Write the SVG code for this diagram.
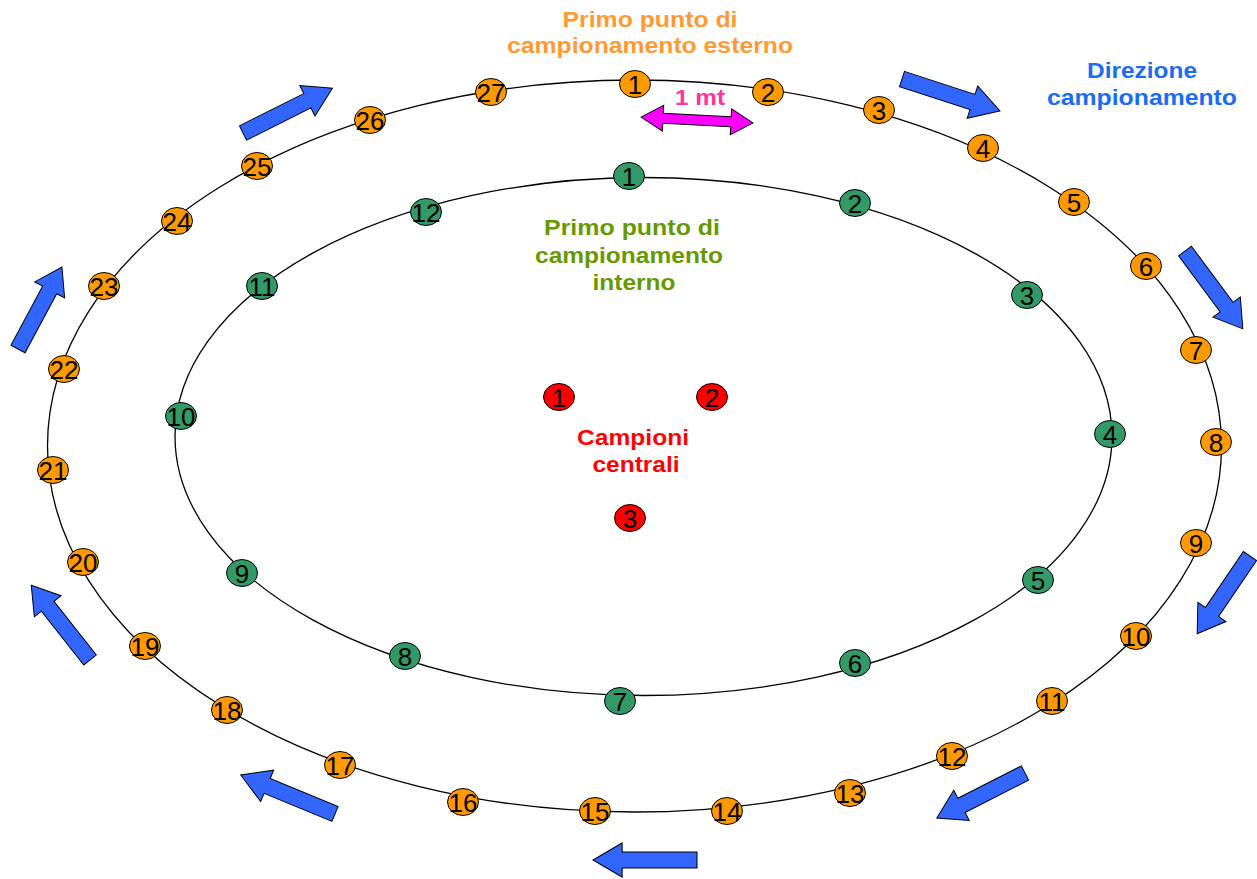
<svg xmlns="http://www.w3.org/2000/svg" xmlns:xlink="http://www.w3.org/1999/xlink" width="1257" height="879" viewBox="0 0 1257 879">
<style>
.ring{fill:none;stroke:#000;stroke-width:1.3}
.or{fill:#FF9900;stroke:#000;stroke-width:1}
.gr{fill:#339966;stroke:#000;stroke-width:1}
.rd{fill:#FF0000;stroke:#000;stroke-width:1}
.num{font-family:"Liberation Sans",Arial,sans-serif;font-size:26px;fill:#000;text-anchor:middle}
.lbl{font-family:"Liberation Sans",Arial,sans-serif;font-weight:bold;font-size:22px;text-anchor:middle}
.blue{fill:#3366FF;stroke:#000;stroke-width:1}
</style>
<defs>
<polygon id="barrow" points="0,-8 72,-8 72,-17 100,0 72,17 72,8 0,8"/>
</defs>
<g id="connectors">
<ellipse class="ring" cx="634.5" cy="446" rx="587" ry="366"/>
<ellipse class="ring" cx="643.5" cy="436.5" rx="468.5" ry="259"/>
</g>
<g id="direction-arrows">
<use xlink:href="#barrow" class="blue" transform="translate(243,133) rotate(-26.6) scale(1,1)"/>
<use xlink:href="#barrow" class="blue" transform="translate(902,79) rotate(18.1) scale(1.03,1)"/>
<use xlink:href="#barrow" class="blue" transform="translate(1185,251) rotate(53.4) scale(0.97,1)"/>
<use xlink:href="#barrow" class="blue" transform="translate(1250,556) rotate(124.2) scale(0.94,1)"/>
<use xlink:href="#barrow" class="blue" transform="translate(1025,773) rotate(153) scale(0.99,1)"/>
<use xlink:href="#barrow" class="blue" transform="translate(697,860) rotate(180) scale(1.04,1)"/>
<use xlink:href="#barrow" class="blue" transform="translate(335,814) rotate(202.5) scale(1.02,1)"/>
<use xlink:href="#barrow" class="blue" transform="translate(90,660) rotate(-128.2) scale(0.95,1)"/>
<use xlink:href="#barrow" class="blue" transform="translate(18,349) rotate(-61.8) scale(0.93,1)"/>
</g>
<g id="distance-arrow">
<polygon transform="translate(697,120) rotate(3)" points="-56,0 -34,-13 -34,-5 34,-5 34,-13 56,0 34,13 34,5 -34,5 -34,13" fill="#FF00FF" stroke="#000" stroke-width="1"/>
<text class="lbl" x="700" y="105" fill="#FF3399" font-size="20" textLength="50" lengthAdjust="spacingAndGlyphs">1 mt</text>
</g>
<g id="label-outer">
<text class="lbl" fill="#FF9933"><tspan x="650" y="27" textLength="175" lengthAdjust="spacingAndGlyphs">Primo punto di</tspan><tspan x="650" y="53" textLength="286" lengthAdjust="spacingAndGlyphs">campionamento esterno</tspan></text>
</g>
<g id="label-direction">
<text class="lbl" fill="#1A6CF5"><tspan x="1142" y="78" textLength="110" lengthAdjust="spacingAndGlyphs">Direzione</tspan><tspan x="1142" y="105" textLength="190" lengthAdjust="spacingAndGlyphs">campionamento</tspan></text>
</g>
<g id="label-inner">
<text class="lbl" fill="#669900"><tspan x="632" y="235" textLength="176" lengthAdjust="spacingAndGlyphs">Primo punto di</tspan><tspan x="629" y="263" textLength="188" lengthAdjust="spacingAndGlyphs">campionamento</tspan><tspan x="634" y="290" textLength="83" lengthAdjust="spacingAndGlyphs">interno</tspan></text>
</g>
<g id="label-central">
<text class="lbl" fill="#FF0000"><tspan x="633" y="445" textLength="112" lengthAdjust="spacingAndGlyphs">Campioni</tspan><tspan x="636" y="472" textLength="87" lengthAdjust="spacingAndGlyphs">centrali</tspan></text>
</g>
<g id="outer-points">
<g id="o1"><ellipse class="or" cx="635" cy="84" rx="15.5" ry="13.5"/><text class="num" x="635" y="93.5">1</text></g>
<g id="o2"><ellipse class="or" cx="768" cy="92" rx="15.5" ry="13.5"/><text class="num" x="768" y="101.5">2</text></g>
<g id="o3"><ellipse class="or" cx="879" cy="110" rx="15.5" ry="13.5"/><text class="num" x="879" y="119.5">3</text></g>
<g id="o4"><ellipse class="or" cx="983" cy="148" rx="15.5" ry="13.5"/><text class="num" x="983" y="157.5">4</text></g>
<g id="o5"><ellipse class="or" cx="1074" cy="202" rx="15.5" ry="13.5"/><text class="num" x="1074" y="211.5">5</text></g>
<g id="o6"><ellipse class="or" cx="1146" cy="266" rx="15.5" ry="13.5"/><text class="num" x="1146" y="275.5">6</text></g>
<g id="o7"><ellipse class="or" cx="1196" cy="350" rx="15.5" ry="13.5"/><text class="num" x="1196" y="359.5">7</text></g>
<g id="o8"><ellipse class="or" cx="1216" cy="442" rx="15.5" ry="13.5"/><text class="num" x="1216" y="451.5">8</text></g>
<g id="o9"><ellipse class="or" cx="1196" cy="543" rx="15.5" ry="13.5"/><text class="num" x="1196" y="552.5">9</text></g>
<g id="o10"><ellipse class="or" cx="1136" cy="636" rx="15.5" ry="13.5"/><text class="num" x="1136" y="645.5">10</text></g>
<g id="o11"><ellipse class="or" cx="1052" cy="701" rx="15.5" ry="13.5"/><text class="num" x="1052" y="710.5">11</text></g>
<g id="o12"><ellipse class="or" cx="952" cy="756" rx="15.5" ry="13.5"/><text class="num" x="952" y="765.5">12</text></g>
<g id="o13"><ellipse class="or" cx="850" cy="793" rx="15.5" ry="13.5"/><text class="num" x="850" y="802.5">13</text></g>
<g id="o14"><ellipse class="or" cx="727" cy="811" rx="15.5" ry="13.5"/><text class="num" x="727" y="820.5">14</text></g>
<g id="o15"><ellipse class="or" cx="595" cy="811" rx="15.5" ry="13.5"/><text class="num" x="595" y="820.5">15</text></g>
<g id="o16"><ellipse class="or" cx="463" cy="802" rx="15.5" ry="13.5"/><text class="num" x="463" y="811.5">16</text></g>
<g id="o17"><ellipse class="or" cx="340" cy="765" rx="15.5" ry="13.5"/><text class="num" x="340" y="774.5">17</text></g>
<g id="o18"><ellipse class="or" cx="227" cy="710" rx="15.5" ry="13.5"/><text class="num" x="227" y="719.5">18</text></g>
<g id="o19"><ellipse class="or" cx="145" cy="646" rx="15.5" ry="13.5"/><text class="num" x="145" y="655.5">19</text></g>
<g id="o20"><ellipse class="or" cx="83" cy="562" rx="15.5" ry="13.5"/><text class="num" x="83" y="571.5">20</text></g>
<g id="o21"><ellipse class="or" cx="53" cy="470" rx="15.5" ry="13.5"/><text class="num" x="53" y="479.5">21</text></g>
<g id="o22"><ellipse class="or" cx="64" cy="369" rx="15.5" ry="13.5"/><text class="num" x="64" y="378.5">22</text></g>
<g id="o23"><ellipse class="or" cx="104" cy="286" rx="15.5" ry="13.5"/><text class="num" x="104" y="295.5">23</text></g>
<g id="o24"><ellipse class="or" cx="177" cy="221" rx="15.5" ry="13.5"/><text class="num" x="177" y="230.5">24</text></g>
<g id="o25"><ellipse class="or" cx="257" cy="166" rx="15.5" ry="13.5"/><text class="num" x="257" y="175.5">25</text></g>
<g id="o26"><ellipse class="or" cx="370" cy="120" rx="15.5" ry="13.5"/><text class="num" x="370" y="129.5">26</text></g>
<g id="o27"><ellipse class="or" cx="491" cy="92" rx="15.5" ry="13.5"/><text class="num" x="491" y="101.5">27</text></g>
</g>
<g id="inner-points">
<g id="i1"><ellipse class="gr" cx="629" cy="176" rx="15.5" ry="13.5"/><text class="num" x="629" y="185.5">1</text></g>
<g id="i2"><ellipse class="gr" cx="855" cy="203" rx="15.5" ry="13.5"/><text class="num" x="855" y="212.5">2</text></g>
<g id="i3"><ellipse class="gr" cx="1027" cy="295" rx="15.5" ry="13.5"/><text class="num" x="1027" y="304.5">3</text></g>
<g id="i4"><ellipse class="gr" cx="1110" cy="434" rx="15.5" ry="13.5"/><text class="num" x="1110" y="443.5">4</text></g>
<g id="i5"><ellipse class="gr" cx="1038" cy="580" rx="15.5" ry="13.5"/><text class="num" x="1038" y="589.5">5</text></g>
<g id="i6"><ellipse class="gr" cx="855" cy="663" rx="15.5" ry="13.5"/><text class="num" x="855" y="672.5">6</text></g>
<g id="i7"><ellipse class="gr" cx="620" cy="701" rx="15.5" ry="13.5"/><text class="num" x="620" y="710.5">7</text></g>
<g id="i8"><ellipse class="gr" cx="405" cy="656" rx="15.5" ry="13.5"/><text class="num" x="405" y="665.5">8</text></g>
<g id="i9"><ellipse class="gr" cx="242" cy="573" rx="15.5" ry="13.5"/><text class="num" x="242" y="582.5">9</text></g>
<g id="i10"><ellipse class="gr" cx="181" cy="416" rx="15.5" ry="13.5"/><text class="num" x="181" y="425.5">10</text></g>
<g id="i11"><ellipse class="gr" cx="262" cy="286" rx="15.5" ry="13.5"/><text class="num" x="262" y="295.5">11</text></g>
<g id="i12"><ellipse class="gr" cx="426" cy="212" rx="15.5" ry="13.5"/><text class="num" x="426" y="221.5">12</text></g>
</g>
<g id="central-points">
<g id="c1"><ellipse class="rd" cx="559" cy="397" rx="15.5" ry="13.5"/><text class="num" x="559" y="406.5">1</text></g>
<g id="c2"><ellipse class="rd" cx="712" cy="397" rx="15.5" ry="13.5"/><text class="num" x="712" y="406.5">2</text></g>
<g id="c3"><ellipse class="rd" cx="630" cy="518" rx="15.5" ry="13.5"/><text class="num" x="630" y="527.5">3</text></g>
</g>
</svg>
